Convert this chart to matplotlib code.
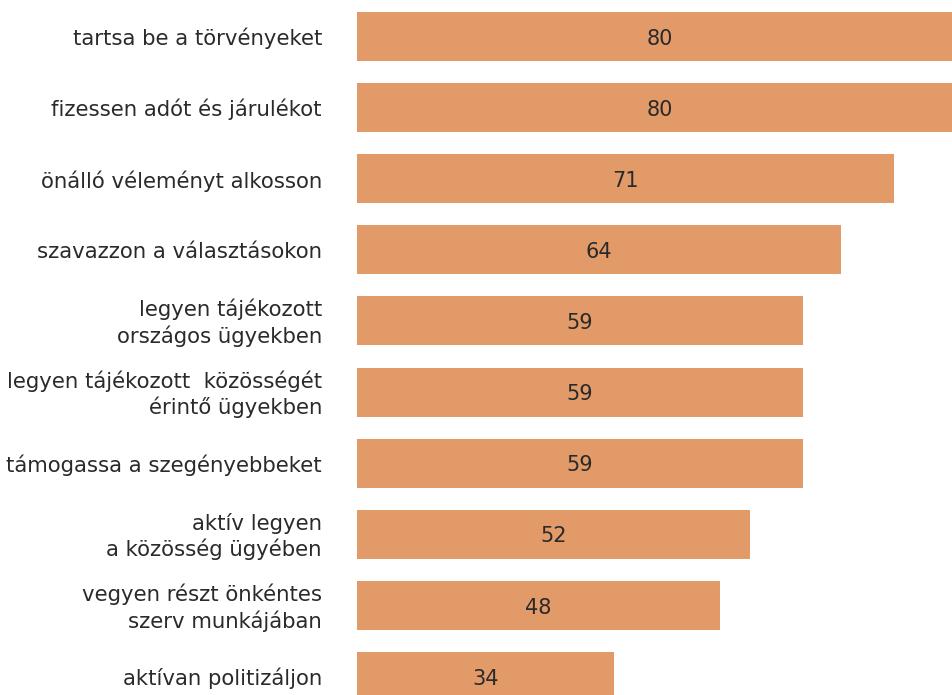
import matplotlib
matplotlib.use("Agg")
import matplotlib.pyplot as plt

categories = [
    "tartsa be a törvényeket",
    "fizessen adót és járulékot",
    "önálló véleményt alkosson",
    "szavazzon a választásokon",
    "legyen tájékozott\nországos ügyekben",
    "legyen tájékozott  közösségét\nérintő ügyekben",
    "támogassa a szegényebbeket",
    "aktív legyen\na közösség ügyében",
    "vegyen részt önkéntes\nszerv munkájában",
    "aktívan politizáljon",
]
values = [80, 80, 71, 64, 59, 59, 59, 52, 48, 34]

BAR_COLOR = "#E29A69"
TEXT_COLOR = "#2a2a2a"

plt.rcParams["font.family"] = ["DejaVu Sans"]

fig = plt.figure(figsize=(9.52, 6.95), dpi=100)
ax = fig.add_axes([357 / 952, 0, 1 - 357 / 952, 1])

y = list(range(len(values)))
ax.barh(y, values, height=0.69, color=BAR_COLOR, left=0)

ax.set_xlim(0, 78.7)
ax.set_ylim(9.26, -0.513)

for yi, v in zip(y, values):
    ax.text(v / 2, yi + 0.03, f"{v}", ha="center", va="center",
            fontsize=15, color=TEXT_COLOR)

for yi, lab in zip(y, categories):
    ax.text(-35 / 7.56, yi + 0.03, lab, ha="right", va="center",
            fontsize=15.3, color=TEXT_COLOR, linespacing=1.3,
            clip_on=False)

ax.set_axis_off()
fig.savefig("out.png", dpi=100)
